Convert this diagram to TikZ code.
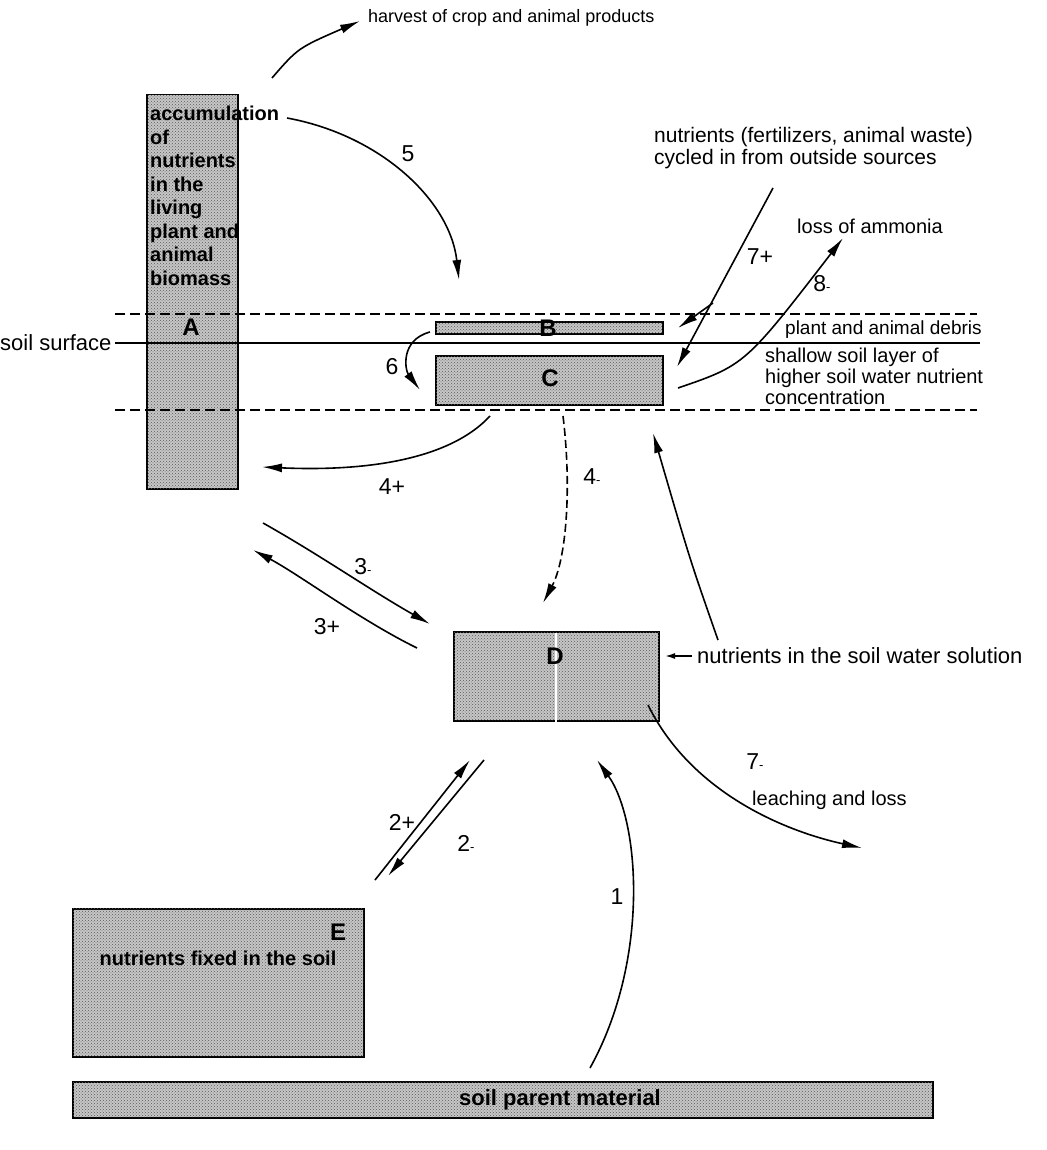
\documentclass[tikz,border=0pt]{standalone}
\usepackage{fontspec}
\setmainfont{Liberation Sans}
\usetikzlibrary{arrows.meta,positioning,calc,patterns}
\newcommand{\mns}{{\fontsize{13}{13}\selectfont -}}
\tikzset{
  soilbox/.style={draw, line width=1.5pt, fill=gray!45, inner sep=0pt,
    postaction={pattern=crosshatch dots, pattern color=gray!70!black}},
  flow/.style={draw, line width=1.6pt, -{Latex[length=20pt,width=9pt]}},
  layer/.style={draw, line width=1.4pt, dash pattern=on 10pt off 5pt},
  txt/.style={font=\fontsize{20}{22}\selectfont, inner sep=0pt, anchor=west},
  num/.style={font=\fontsize{23}{25}\selectfont, inner sep=0pt},
  boxletter/.style={font=\fontsize{24}{25}\selectfont\bfseries, inner sep=0pt},
}

\begin{document}
\begin{tikzpicture}[x=1pt, y=-1pt]
        \useasboundingbox (0,0) rectangle (1046,1150);
        %boxes
        \node[soilbox, anchor=north west, minimum width=91pt, minimum height=394pt] (A) at (146,94) {};
        \node[soilbox, anchor=north west, minimum width=227pt, minimum height=12pt] (B) at (435,321) {};
        \node[soilbox, anchor=north west, minimum width=227pt, minimum height=49pt] (C) at (435,355) {};
        \node[soilbox, anchor=north west, minimum width=205pt, minimum height=89pt] (D) at (453,631) {};
        \node[soilbox, anchor=north west, minimum width=291pt, minimum height=148pt] (E) at (72,908) {};
        \node[soilbox, anchor=north west, minimum width=860pt, minimum height=36pt] (P) at (72,1081) {};
        \draw[white, line width=1.8pt] (D.north) ++(0,1.5) coordinate (Dsplit) -- (D.south);
        %layers
        \coordinate (topL) at (115,314);
        \coordinate (topR) at (977,314);
        \coordinate (botL) at (115,410);
        \coordinate (botR) at (977,410);
        \coordinate (surfL) at (115,343);
        \coordinate (surfR) at (980,343);
        \path[layer] (topL) -- (topR);
        \path[layer] (botL) -- (botR);
        \path[draw, line width=2.8pt] (surfL) -- (surfR);
        %box texts
        \node[txt, anchor=north west, align=left, font=\fontsize{20}{23.5}\selectfont\bfseries] (Atext) at (150,106)
          {accumulation\\of\\nutrients\\in the\\living\\plant and\\animal\\biomass};
        \node[boxletter] (Albl) at (191,327) {A};
        \node[boxletter] (Blbl) at (548,328) {B};
        \node[boxletter] (Clbl) at (550,378) {C};
        \node[boxletter] (Dlbl) at (555,656) {D};
        \node[boxletter] (Elbl) at (338,932) {E};
        \node[font=\fontsize{20}{22}\selectfont\bfseries] (Etext) at (218,958) {nutrients fixed in the soil};
        \node[font=\fontsize{22}{24}\selectfont\bfseries] (Ptext) at (560,1100) {soil parent material};
        %outside texts
        \node[txt, font=\fontsize{22}{24}\selectfont] (surf) at (0,343) {soil surface};
        \node[txt, font=\fontsize{18}{20}\selectfont] (harv) at (368,18) {harvest of crop and animal products};
        \node[txt, anchor=north west, align=left, font=\fontsize{21}{22}\selectfont] (fert) at (654,127)
          {nutrients (fertilizers, animal waste)\\cycled in from outside sources};
        \node[txt] (ammo) at (797,226) {loss of ammonia};
        \node[txt, font=\fontsize{19}{21}\selectfont] (debris) at (785,330) {plant and animal debris};
        \node[txt, anchor=north west, align=left, font=\fontsize{20}{21}\selectfont] (shallow) at (765,348)
          {shallow soil layer of\\higher soil water nutrient\\concentration};
        \node[txt, font=\fontsize{22}{24}\selectfont] (solu) at (697,656) {nutrients in the soil water solution};
        \node[txt] (leach) at (752,800) {leaching and loss};
        %numbers
        \node[num] (n5) at (408,154) {5};
        \node[num] (n7p) at (760,257) {7+};
        \node[num] (n8m) at (822,284) {8\mns};
        \node[num] (n6) at (392,367) {6};
        \node[num] (n4p) at (392,487) {4+};
        \node[num] (n4m) at (592,477) {4\mns};
        \node[num] (n3m) at (363,567) {3\mns};
        \node[num] (n3p) at (327,627) {3+};
        \node[num] (n7m) at (755,762) {7\mns};
        \node[num] (n2p) at (402,822) {2+};
        \node[num] (n2m) at (466,843) {2\mns};
        \node[num] (n1) at (617,897) {1};
        %edge ends
        \coordinate (harvS) at (272,78);
        \coordinate (harvT) at (360,21);
        \coordinate (upS) at (287,118);
        \coordinate (upT) at (459,280);
        \coordinate (fertS) at (773,188);
        \coordinate (fertM) at (713,303);
        \coordinate (fertB) at (678,328);
        \coordinate (fertC) at (677,367);
        \coordinate (ammoS) at (678,388);
        \coordinate (ammoT) at (843,238);
        \coordinate (debS) at (430,332);
        \coordinate (debT) at (420,390);
        \coordinate (fourS) at (490,416);
        \coordinate (fourT) at (262,467);
        \coordinate (downS) at (563,416);
        \coordinate (downT) at (543,603);
        \coordinate (takeS) at (263,523);
        \coordinate (takeT) at (430,624);
        \coordinate (giveS) at (417,648);
        \coordinate (giveT) at (253,550);
        \coordinate (riseS) at (718,640);
        \coordinate (riseT) at (653,433);
        \coordinate (soluS) at (692,656);
        \coordinate (soluT) at (665,656);
        \coordinate (leachS) at (648,705);
        \coordinate (leachT) at (862,848);
        \coordinate (relS) at (375,880);
        \coordinate (relT) at (470,760);
        \coordinate (fixS) at (484,760);
        \coordinate (fixT) at (388,876);
        \coordinate (weathS) at (590,1068);
        \coordinate (weathT) at (597,760);
        %edges
        \path [flow] (harvS) .. controls (298,48) .. (harvT);
        \path [flow] (upS) .. controls (380,135) and (450,200) .. (upT);
        \path [flow] (fertS) -- (fertC);
        \path [flow] (fertM) -- (fertB);
        \path [flow] (ammoS) .. controls (745,365) .. (ammoT);
        \path [flow] (debS) .. controls (400,340) and (405,370) .. (debT);
        \path [flow] (fourS) .. controls (440,470) and (330,470) .. (fourT);
        \path [flow, dash pattern=on 8pt off 4pt] (downS) .. controls (572,490) and (566,560) .. (downT);
        \path [flow] (takeS) .. controls (320,555) and (370,590) .. (takeT);
        \path [flow] (giveS) .. controls (360,620) and (300,575) .. (giveT);
        \path [flow] (riseS) .. controls (690,560) .. (riseT);
        \path [draw, line width=1.6pt, -{Latex[length=10pt,width=6pt]}] (soluS) -- (soluT);
        \path [flow] (leachS) .. controls (690,790) and (780,830) .. (leachT);
        \path [flow] (relS) -- (relT);
        \path [flow] (fixS) -- (fixT);
        \path [flow] (weathS) .. controls (650,960) and (640,820) .. (weathT);
\end{tikzpicture}
\end{document}
